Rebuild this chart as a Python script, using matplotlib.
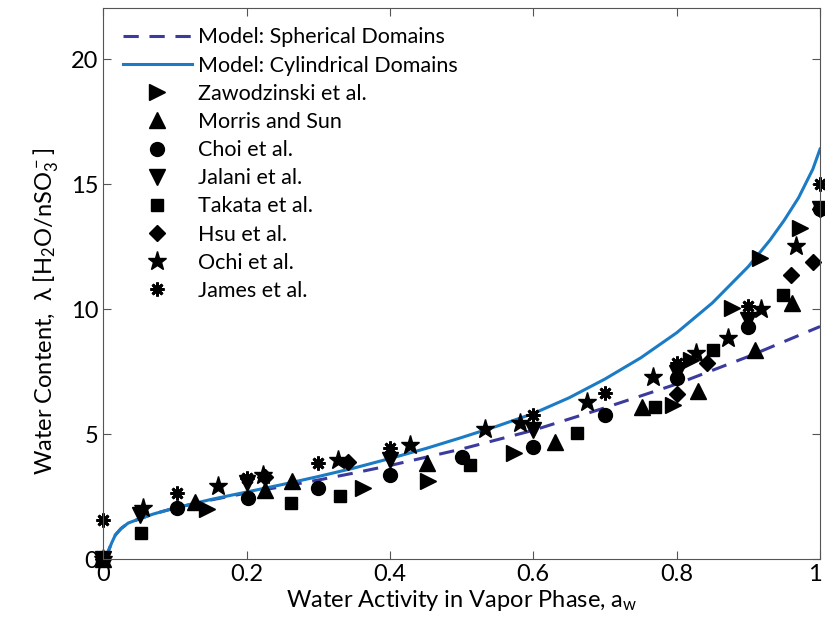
import matplotlib; matplotlib.use('Agg')
import matplotlib.pyplot as plt
import matplotlib.transforms as mtransforms

plt.rcParams['font.family'] = ['Lato', 'DejaVu Sans']
plt.rcParams['mathtext.default'] = 'regular'

# model curves
cyl_x = [0, 0.003, 0.007, 0.012, 0.017, 0.025, 0.035, 0.05, 0.07, 0.1, 0.15, 0.2, 0.25, 0.3, 0.35,
         0.4, 0.45, 0.5, 0.55, 0.6, 0.65, 0.7, 0.75, 0.8, 0.85, 0.9, 0.93, 0.95, 0.97, 0.99, 1.0]
cyl_y = [0, 0.1, 0.3, 0.65, 0.96, 1.22, 1.44, 1.6, 1.8, 2.04, 2.38, 2.68, 2.98, 3.3, 3.64,
         4.02, 4.42, 4.86, 5.32, 5.82, 6.45, 7.2, 8.05, 9.05, 10.25, 11.7, 12.75, 13.55, 14.45, 15.6, 16.4]
sph_x = [0, 0.003, 0.007, 0.012, 0.017, 0.025, 0.035, 0.05, 0.07, 0.1, 0.15, 0.2, 0.25, 0.3, 0.35,
         0.4, 0.5, 0.6, 0.7, 0.8, 0.9, 1.0]
sph_y = [0, 0.1, 0.3, 0.65, 0.96, 1.22, 1.44, 1.6, 1.8, 2.04, 2.36, 2.64, 2.9, 3.16, 3.44,
         3.74, 4.4, 5.15, 6.05, 7.0, 8.1, 9.3]

zaw_x = [0.145, 0.363, 0.453, 0.573, 0.795, 0.82, 0.877, 0.916, 0.972]
zaw_y = [2.0, 2.84, 3.12, 4.24, 6.16, 7.96, 10.04, 12.04, 13.24]
mor_x = [0, 0.128, 0.226, 0.264, 0.452, 0.63, 0.752, 0.83, 0.909, 0.961]
mor_y = [0, 2.28, 2.76, 3.12, 3.84, 4.68, 6.08, 6.72, 8.36, 10.24]
choi_x = [0, 0.103, 0.202, 0.3, 0.4, 0.5, 0.6, 0.7, 0.8, 0.9, 1.0]
choi_y = [0, 2.04, 2.44, 2.84, 3.36, 4.08, 4.48, 5.76, 7.24, 9.28, 14.0]
jal_x = [0, 0.052, 0.2, 0.4, 0.6, 0.8, 0.9, 1.0]
jal_y = [0, 1.76, 3.04, 3.96, 5.16, 7.44, 9.56, 14.0]
tak_x = [0, 0.053, 0.262, 0.33, 0.512, 0.661, 0.77, 0.851, 0.948]
tak_y = [0, 1.04, 2.24, 2.52, 3.76, 5.04, 6.08, 8.36, 10.56]
hsu_x = [0, 0.226, 0.342, 0.8, 0.842, 0.96, 0.99, 1.0]
hsu_y = [0, 3.28, 3.88, 6.6, 7.84, 11.36, 11.88, 14.0]
ochi_x = [0, 0.056, 0.16, 0.223, 0.328, 0.428, 0.533, 0.582, 0.675, 0.767, 0.827, 0.872, 0.918, 0.967]
ochi_y = [0, 2.04, 2.92, 3.36, 3.96, 4.56, 5.2, 5.44, 6.28, 7.28, 8.24, 8.84, 10.0, 12.52]
jam_x = [0, 0.103, 0.2, 0.3, 0.4, 0.6, 0.7, 0.8, 0.9, 1.0]
jam_y = [1.56, 2.64, 3.24, 3.84, 4.44, 5.76, 6.64, 7.84, 10.12, 15.0]

fig = plt.figure(figsize=(8.25, 6.37), dpi=100)
ax = fig.add_axes([0.125, 0.1224, 0.869, 0.865])

ax.plot(sph_x, sph_y, '--', color='#3b3b9e', lw=2.2, dashes=(5, 3.5), label='Model: Spherical Domains')
ax.plot(cyl_x, cyl_y, '-', color='#1b7bc4', lw=2.2, label='Model: Cylindrical Domains')

ms = 11
series = [
  (zaw_x, zaw_y, '>', 'Zawodzinski et al.', ms),
  (mor_x, mor_y, '^', 'Morris and Sun', ms),
  (choi_x, choi_y, 'o', 'Choi et al.', ms - 1),
  (jal_x, jal_y, 'v', 'Jalani et al.', ms),
  (tak_x, tak_y, 's', 'Takata et al.', ms - 2),
  (hsu_x, hsu_y, 'D', 'Hsu et al.', ms - 3),
  (ochi_x, ochi_y, '*', 'Ochi et al.', ms + 3),
]
for x, y, m, lab, s in series:
  ax.plot(x, y, m, color='black', ms=s, mec='black', label=lab, clip_on=False)
ax.plot(jam_x, jam_y, ls='none', marker=(8, 2, 0), color='black', ms=10, mew=2, label='James et al.', clip_on=False)

ax.set_xlim(0, 1)
ax.set_ylim(0, 22.04)
ax.set_xticks([0, 0.2, 0.4, 0.6, 0.8, 1])
ax.set_xticklabels(['0', '0.2', '0.4', '0.6', '0.8', '1'])
ax.set_yticks([0, 5, 10, 15, 20])
ax.tick_params(direction='in', top=True, right=True, labelsize=17, length=6, color='#555555')
for sp in ax.spines.values():
  sp.set_color('#555555')
# keep the last x tick label inside the figure
last = ax.get_xticklabels()[-1]
last.set_transform(last.get_transform() + mtransforms.ScaledTranslation(-4 / 72, 0, fig.dpi_scale_trans))

ax.set_xlabel('Water Activity in Vapor Phase, a$_w$', fontsize=17, labelpad=2)
ax.set_ylabel('Water Content,  λ [H$_2$O/nSO$_3^-$]', fontsize=17)
ax.yaxis.set_label_coords(-0.06, 0.45)

ax.legend(loc='upper left', frameon=False, fontsize=15.5, handlelength=3.25, labelspacing=0.38,
          borderaxespad=0.5, handletextpad=0.25, numpoints=1)

plt.savefig('out.png', dpi=100)
